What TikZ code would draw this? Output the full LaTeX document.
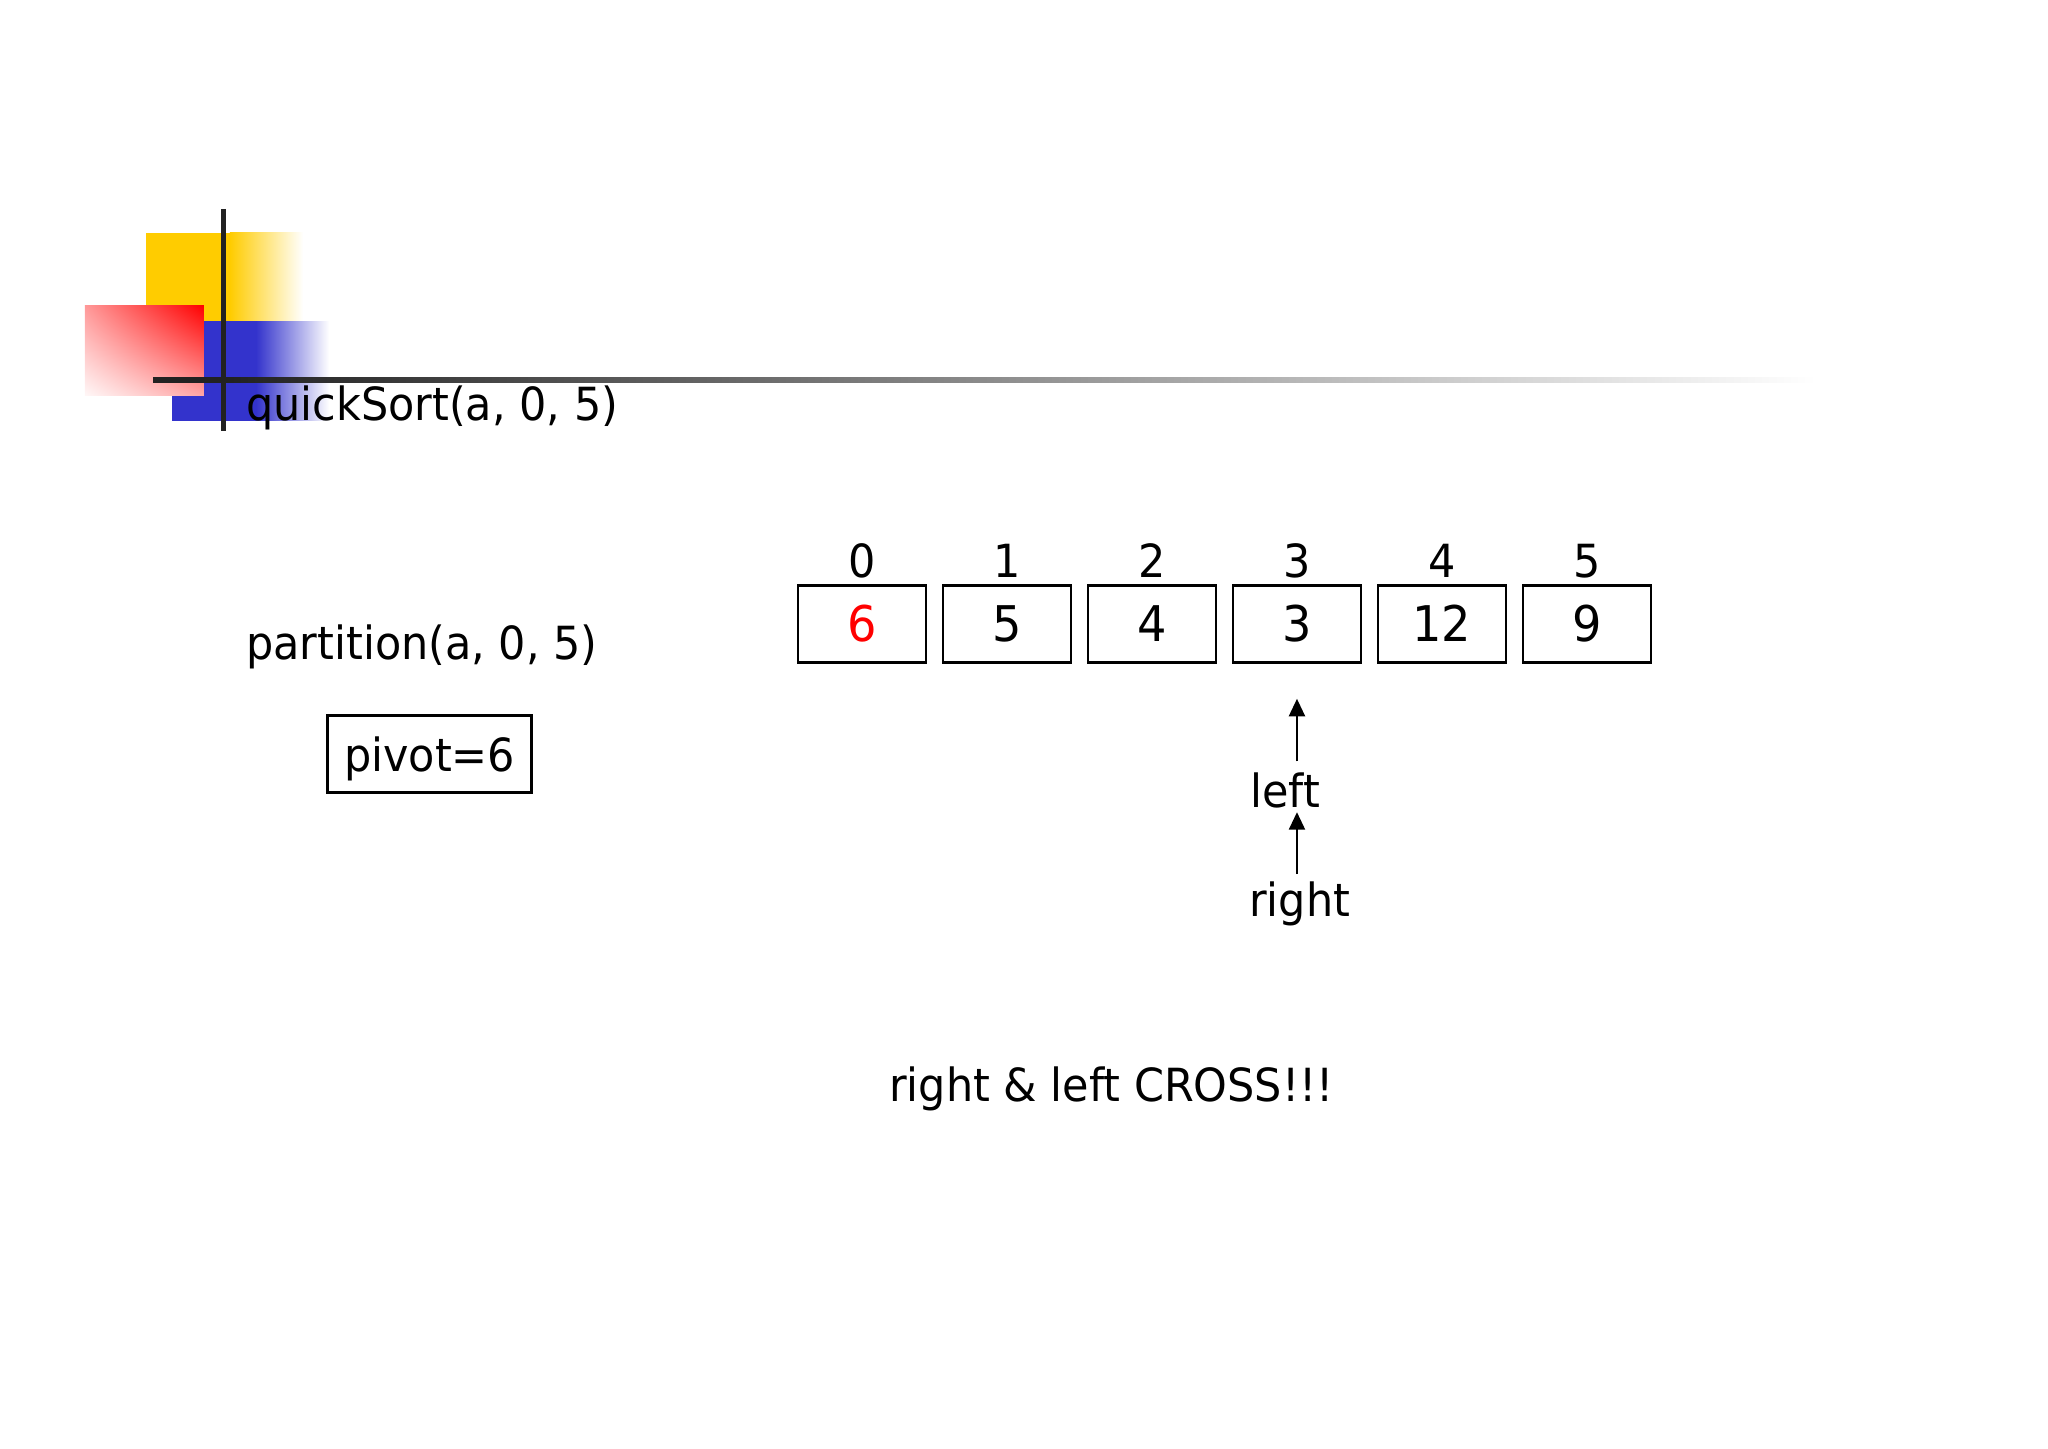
\documentclass[tikz,border=0pt]{standalone}
\usepackage{fontspec}
\setmainfont{DejaVu Sans}[FakeStretch=0.94]
\usetikzlibrary{
	arrows.meta,
	shadings,
	positioning
}
\definecolor{LogoYellow}{RGB}{255,204,0}
\definecolor{LogoBlue}{RGB}{51,51,204}
\definecolor{LogoRed}{RGB}{255,0,0}
\definecolor{RuleGray}{RGB}{34,34,34}

\tikzset{
	cellbox/.style={draw, line width=0.8pt, minimum width=1.28cm, minimum height=0.77cm, inner sep=0pt, font=\fontsize{14}{16}\selectfont},
	idxlabel/.style={inner sep=0pt, font=\fontsize{13}{15}\selectfont},
	plaintext/.style={inner sep=0pt, font=\fontsize{13}{15}\selectfont},
	ptr/.style={-{Triangle[length=5pt,width=4.5pt]}, line width=0.8pt}
}

\begin{document}
\begin{tikzpicture}[x=0.013061cm, y=-0.013061cm]
			\useasboundingbox (0,0) rectangle (1568,1109);
			% title decoration
			\fill[LogoYellow] (112,178) rectangle (176,246);
			\shade[left color=LogoYellow, right color=white] (176,178) rectangle (232,246);
			\fill[LogoBlue] (132,246) rectangle (196,322);
			\shade[left color=LogoBlue, right color=white] (196,246) rectangle (252,322);
			\shade[upper right=LogoRed, upper left=red!40, lower right=red!35, lower left=red!3] (65,234) rectangle (156,303);
			\fill[RuleGray] (117,289) rectangle (176,293);
			\shade[left color=RuleGray, right color=white] (176,289) rectangle (1390,293);
			\draw[RuleGray, line width=1.6pt] (171,160) -- (171,330);
			\node[plaintext, anchor=base west] (qsort) at (188,322) {quickSort(a, 0, 5)};

			% call and pivot
			\node[plaintext, anchor=base west] (part) at (188,505) {partition(a, 0, 5)};
			\node[draw, line width=0.8pt, minimum width=2.04cm, minimum height=0.77cm, text depth=0pt, plaintext] (pivot) at (329,577.5) {pivot=6};

			% array
			\foreach \v/\col [count=\i from 0] in {6/red, 5/black, 4/black, 3/black, 12/black, 9/black} {
				\node[cellbox, text=\col] (c\i) at ({660+111*\i},477.5) {\v};
				\node[idxlabel, above=1.5pt of c\i] (i\i) {\i};
			}

			% pointers
			\node[plaintext] (lft) at (984,605) {left};
			\node[plaintext] (rgt) at (995,692) {right};
			\draw[ptr, shorten <=3pt, shorten >=10pt] (lft.north -| c3) -- (c3.south);
			\draw[ptr, shorten <=2pt, shorten >=1pt] (rgt.north -| c3) -- (lft.south -| c3);

			\node[plaintext] (cross) at (851,834) {right \& left CROSS!!!};
		\end{tikzpicture}
\end{document}
